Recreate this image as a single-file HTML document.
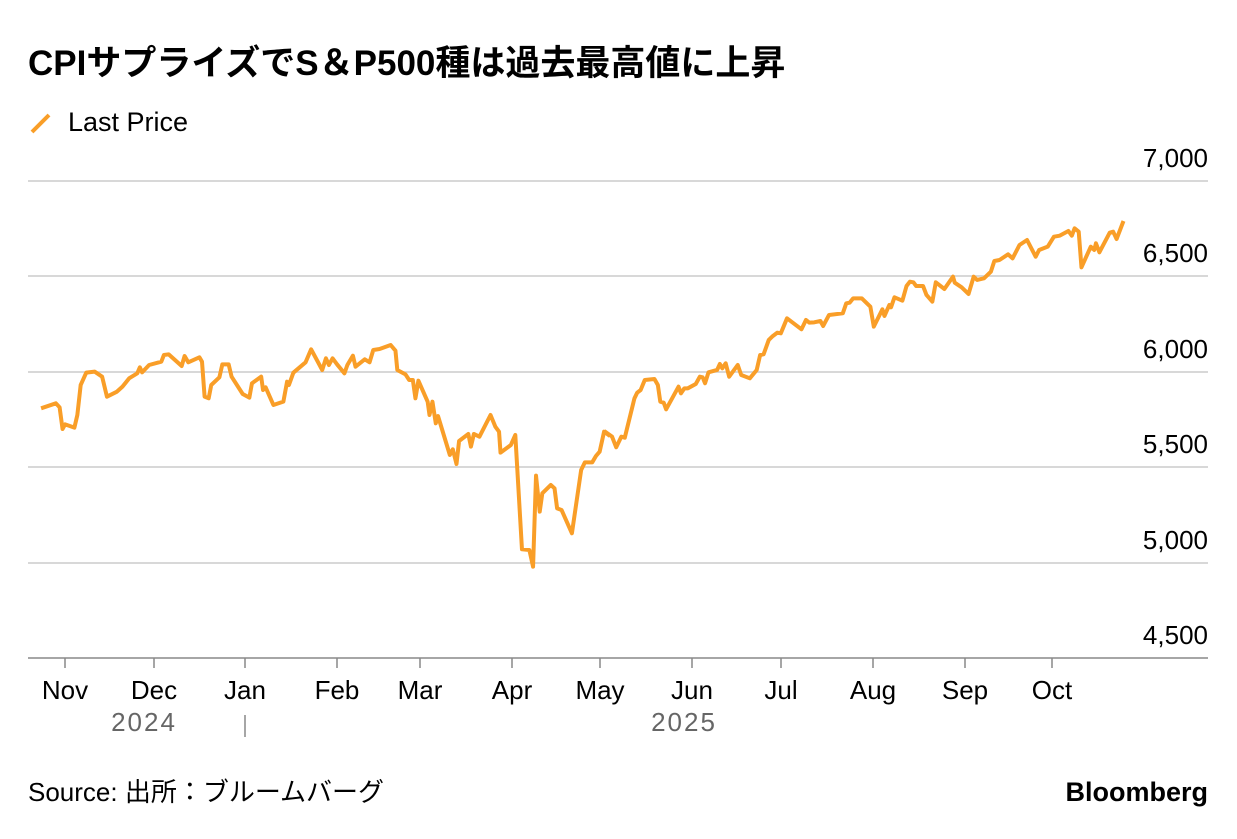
<!DOCTYPE html>
<html><head><meta charset="utf-8"><style>
body{margin:0;background:#fff;width:1237px;height:834px;overflow:hidden;font-family:"Liberation Sans","Noto Sans CJK JP",sans-serif;}
</style></head><body>
<svg width="1237" height="834" xmlns="http://www.w3.org/2000/svg" font-family="Liberation Sans, Noto Sans CJK JP, sans-serif">
<text x="28" y="75" font-size="35" font-weight="bold" fill="#000">CPIサプライズでS＆P500種は過去最高値に上昇</text>
<line x1="32" y1="132" x2="49" y2="115" stroke="#f99e28" stroke-width="4"/>
<text x="68" y="131" font-size="27" fill="#000">Last Price</text>
<g stroke="#ccc" stroke-width="1.5">
<line x1="28" y1="181" x2="1208" y2="181"/><line x1="28" y1="276" x2="1208" y2="276"/>
<line x1="28" y1="372" x2="1208" y2="372"/><line x1="28" y1="467" x2="1208" y2="467"/>
<line x1="28" y1="563" x2="1208" y2="563"/></g>
<line x1="28" y1="658" x2="1208" y2="658" stroke="#888" stroke-width="1.5"/>
<g font-size="26" fill="#000" text-anchor="end">
<text x="1208" y="167">7,000</text><text x="1208" y="262">6,500</text><text x="1208" y="358">6,000</text>
<text x="1208" y="453">5,500</text><text x="1208" y="549">5,000</text><text x="1208" y="644">4,500</text></g>
<g stroke="#888" stroke-width="1.5">
<line x1="65" y1="658" x2="65" y2="668"/><line x1="154" y1="658" x2="154" y2="668"/><line x1="245" y1="658" x2="245" y2="668"/>
<line x1="337" y1="658" x2="337" y2="668"/><line x1="420" y1="658" x2="420" y2="668"/><line x1="512" y1="658" x2="512" y2="668"/>
<line x1="600" y1="658" x2="600" y2="668"/><line x1="692" y1="658" x2="692" y2="668"/><line x1="781" y1="658" x2="781" y2="668"/>
<line x1="873" y1="658" x2="873" y2="668"/><line x1="965" y1="658" x2="965" y2="668"/><line x1="1052" y1="658" x2="1052" y2="668"/>
<line x1="245" y1="715" x2="245" y2="737"/></g>
<g font-size="26" fill="#000" text-anchor="middle">
<text x="65" y="699">Nov</text><text x="154" y="699">Dec</text><text x="245" y="699">Jan</text><text x="337" y="699">Feb</text>
<text x="420" y="699">Mar</text><text x="512" y="699">Apr</text><text x="600" y="699">May</text><text x="692" y="699">Jun</text>
<text x="781" y="699">Jul</text><text x="873" y="699">Aug</text><text x="965" y="699">Sep</text><text x="1052" y="699">Oct</text></g>
<g font-size="26" fill="#666" text-anchor="middle" letter-spacing="2">
<text x="144" y="731">2024</text><text x="684" y="731">2025</text></g>
<g fill="none" stroke="#f99e28" stroke-width="4" stroke-linejoin="round">
<polyline vector-effect="non-scaling-stroke" transform="translate(30,330) scale(0.3699,0.3333)" points="30,235 70,220 80,232 88,297 95,283 120,293 128,255 137,165 152,128 175,125 195,140 208,200 235,185 250,170 268,145 290,130 297,112 303,127 322,105 355,95 362,75 375,73 410,108 418,78 428,97 458,82 465,95 472,200 483,205 490,165 512,142 520,103 537,103 545,140 575,192 593,203 600,160 625,140 630,180 637,172 658,225 685,215 695,155 700,165 712,128 745,97 760,58 790,120 800,85 808,105 818,85 830,103 850,130 858,105 873,77 880,110 905,88 918,97 928,60 945,57 975,45 988,62 993,120 1015,133 1025,150 1035,150 1042,205 1050,152 1075,215 1080,255 1088,215 1097,280 1103,258 1135,375 1143,358 1153,402 1160,333 1185,312 1192,350 1200,312 1215,320 1245,255 1258,290 1268,305 1272,368 1300,345 1312,315 1330,658 1350,660 1360,710 1368,437 1378,545 1385,490 1408,465 1418,475 1425,535 1437,540 1465,610 1490,420 1500,397 1520,397 1530,378 1540,365 1552,305 1568,318"/>
<polyline vector-effect="non-scaling-stroke" transform="translate(600,210) scale(0.3444,0.3333)" points="12,663 35,680 47,712 62,680 72,683 100,565 108,548 118,540 130,510 158,507 168,525 175,575 185,578 192,598 228,530 235,550 245,535 255,535 278,522 290,500 298,502 305,520 315,487 340,480 348,462 355,475 365,460 375,500 400,465 410,495 435,505 455,480 465,435 475,433 490,390 502,378 515,368 525,370 543,325 585,358 598,330 608,338 622,337 640,333 648,348 665,315 705,310 715,280 725,278 735,265 760,265 785,290 795,350 820,298 826,318 840,285 845,292 855,262 878,272 890,228 900,215 910,217 918,228 938,228 948,255 965,275 975,217 1000,237 1025,200 1030,218 1050,232 1070,252 1085,200 1095,210 1115,205 1135,185 1145,153 1160,150 1185,133 1198,145 1218,105 1240,90 1265,140 1275,120 1300,110 1318,80 1335,77 1360,63 1370,77 1378,55 1390,65 1398,172 1425,110 1435,120 1440,100 1450,127 1480,68 1490,65 1500,87 1510,60 1520,33"/>
</g>
<text x="28" y="801" font-size="26" fill="#000">Source: 出所：ブルームバーグ</text>
<text x="1208" y="801" font-size="27" font-weight="bold" fill="#000" text-anchor="end">Bloomberg</text>
</svg>
</body></html>
